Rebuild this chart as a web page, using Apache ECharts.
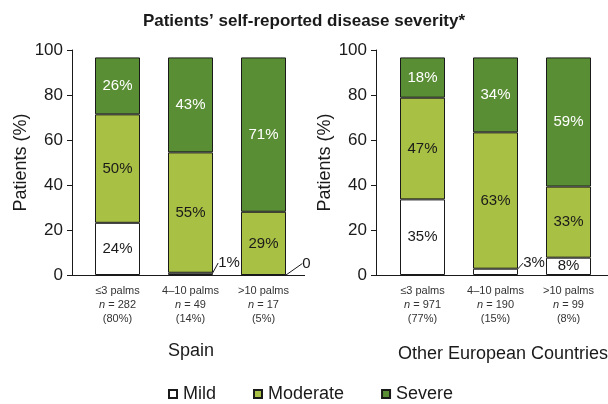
<!DOCTYPE html>
<html>
<head>
<meta charset="utf-8">
<script src="https://cdn.jsdelivr.net/npm/echarts@6/dist/echarts.min.js"></script>
<style>
html, body { margin: 0; padding: 0; background: #fff; }
#chart { width: 608px; height: 404px; }
</style>
</head>
<body>
<div id="chart"></div>
<script>
const groups = ['≤3 palms', '4–10 palms', '>10 palms']
const yTicks = [0, 20, 40, 60, 80, 100]

const spainN = ['282', '49', '17']
const spainShare = ['80%', '14%', '5%']
const otherN = ['971', '190', '99']
const otherShare = ['77%', '15%', '8%']

// segment heights as drawn on the axis (bars top out a little under 100)
const spainMild = [23.2, 1.0, 0]
const spainModerate = [48.2, 53.5, 28.1]
const spainSevere = [25.3, 42.2, 68.6]
const otherMild = [33.6, 2.8, 7.7]
const otherModerate = [45.2, 60.6, 31.6]
const otherSevere = [17.9, 33.3, 57.4]

// printed percentages
const spainMildText = ['24%', '1%', '0']
const spainModerateText = ['50%', '55%', '29%']
const spainSevereText = ['26%', '43%', '71%']
const otherMildText = ['35%', '3%', '8%']
const otherModerateText = ['47%', '63%', '33%']
const otherSevereText = ['18%', '34%', '59%']

const FONT = 'Liberation Sans, Arial, Helvetica, sans-serif'
const INK = '#1a1a1a'
const MILD = '#ffffff'
const MODERATE = '#a8c043'
const SEVERE = '#5a8e35'

const chart = echarts.init(document.getElementById('chart'), null, { renderer: 'canvas' })

const bars = (name, grid, values, texts, color, textColor) => {
  return {
    name: name,
    type: 'bar',
    stack: 'panel' + grid,
    xAxisIndex: grid,
    yAxisIndex: grid,
    barWidth: 45,
    animation: false,
    itemStyle: { color: color, borderColor: INK, borderWidth: 1 },
    label: {
      show: true,
      position: 'inside',
      color: textColor,
      fontFamily: FONT,
      fontSize: 15,
      formatter: p => texts[p.dataIndex]
    },
    // tiny segments get their label pulled out to the right with a leader line
    labelLayout: p => {
      if (values[p.dataIndex] >= 4) return {}
      const dx = texts[p.dataIndex].length > 1 ? 16 : 20
      return {
        x: p.rect.x + p.rect.width + dx,
        y: p.rect.y + p.rect.height - 12,
        align: 'center',
        verticalAlign: 'middle'
      }
    },
    data: values.map(v => v < 4
      ? { value: v, label: { color: INK }, labelLine: { show: true, lineStyle: { color: INK, width: 1 } } }
      : v)
  }
}

const xAxisFor = (grid, nList, shareList) => {
  return {
    type: 'category',
    gridIndex: grid,
    data: groups,
    axisTick: { show: false },
    axisLine: { lineStyle: { color: INK, width: 1 } },
    axisLabel: {
      interval: 0,
      margin: 9,
      formatter: (v, i) => `{a|${v}}\n{i|n}{a| = ${nList[i]}}\n{a|(${shareList[i]})}`,
      rich: {
        a: { fontFamily: FONT, fontSize: 11, color: '#333', lineHeight: 14 },
        i: { fontFamily: FONT, fontSize: 11, color: '#333', lineHeight: 14, fontStyle: 'italic' }
      }
    }
  }
}

const yAxisFor = (grid, offset) => {
  return {
    type: 'value',
    gridIndex: grid,
    min: yTicks[0],
    max: yTicks[yTicks.length - 1],
    interval: yTicks[1] - yTicks[0],
    offset: offset,
    name: 'Patients (%)',
    nameLocation: 'middle',
    nameGap: 42,
    nameTextStyle: { fontFamily: FONT, fontSize: 18, color: INK },
    axisLine: { show: true, lineStyle: { color: INK, width: 1 } },
    axisTick: { show: true, length: 5, lineStyle: { color: INK } },
    axisLabel: { fontFamily: FONT, fontSize: 17, color: INK, margin: 9 },
    splitLine: { show: false }
  }
}

const stub = (x1, x2) => ({
  type: 'line',
  shape: { x1: x1, y1: 275.5, x2: x2, y2: 275.5 },
  style: { stroke: INK, lineWidth: 1 },
  silent: true
})

const panelName = (x, y, text) => ({
  type: 'text',
  x: x,
  y: y,
  style: { text: text, align: 'center', verticalAlign: 'middle', font: '18px ' + FONT, fill: INK }
})

chart.setOption({
  backgroundColor: '#fff',
  animation: false,
  title: {
    text: 'Patients’ self-reported disease severity*',
    left: 'center',
    top: 8,
    textStyle: { fontFamily: FONT, fontSize: 17, fontWeight: 'bold', color: INK }
  },
  legend: {
    left: 168,
    top: 385,
    padding: 0,
    itemWidth: 8,
    itemHeight: 8,
    itemGap: 37,
    icon: 'rect',
    data: ['Mild', 'Moderate', 'Severe'],
    textStyle: { fontFamily: FONT, fontSize: 18, color: INK, padding: [0, 0, 0, 1] }
  },
  grid: [
    { left: 81, width: 219, top: 50, bottom: 129 },
    { left: 386, width: 219, top: 50, bottom: 129 }
  ],
  xAxis: [xAxisFor(0, spainN, spainShare), xAxisFor(1, otherN, otherShare)],
  yAxis: [yAxisFor(0, 9), yAxisFor(1, 10)],
  graphic: [
    stub(72, 81), stub(300, 305),
    stub(376, 386), stub(605, 608),
    panelName(191, 351, 'Spain'),
    panelName(503, 354, 'Other European Countries')
  ],
  series: [
    bars('Mild', 0, spainMild, spainMildText, MILD, INK),
    bars('Moderate', 0, spainModerate, spainModerateText, MODERATE, INK),
    bars('Severe', 0, spainSevere, spainSevereText, SEVERE, '#fff'),
    bars('Mild', 1, otherMild, otherMildText, MILD, INK),
    bars('Moderate', 1, otherModerate, otherModerateText, MODERATE, INK),
    bars('Severe', 1, otherSevere, otherSevereText, SEVERE, '#fff')
  ]
})
</script>
</body>
</html>
